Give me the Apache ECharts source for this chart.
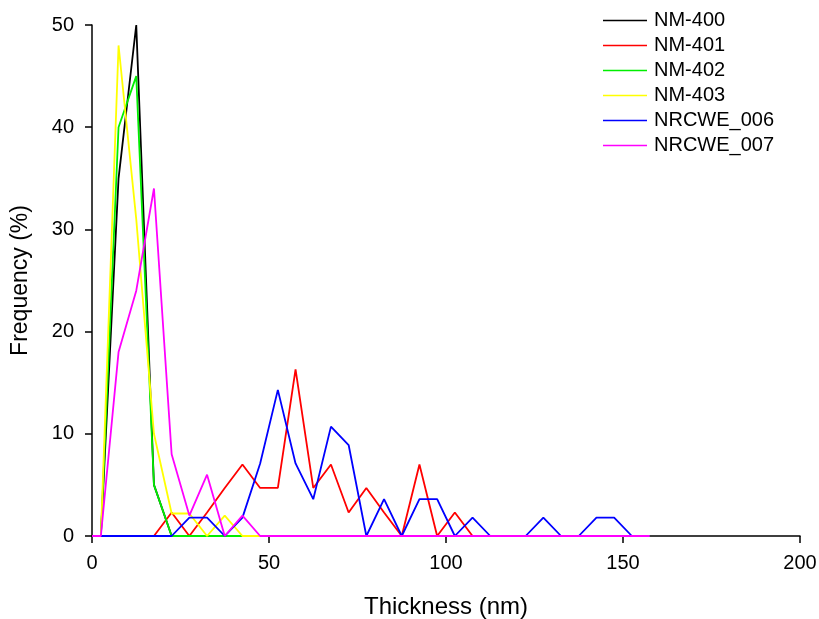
<!DOCTYPE html>
<html>
<head>
<meta charset="utf-8">
<script src="https://cdn.jsdelivr.net/npm/echarts@6/dist/echarts.min.js"></script>
<style>
html,body{margin:0;padding:0;background:#fff;}
#chart{width:819px;height:619px;}
</style>
</head>
<body>
<div id="chart"></div>
<script>
// Bin centres (nm)
var thickness = [2.5, 7.5, 12.5, 17.5, 22.5, 27.5, 32.5, 37.5, 42.5, 47.5,
  52.5, 57.5, 62.5, 67.5, 72.5, 77.5, 82.5, 87.5, 92.5, 97.5,
  102.5, 107.5, 112.5, 117.5, 122.5, 127.5, 132.5, 137.5, 142.5, 147.5,
  152.5, 157.5];

var seriesNames = ["NM-400", "NM-401", "NM-402", "NM-403", "NRCWE_006", "NRCWE_007"];

var nm400 = [0, 35, 50, 5, 0, 0, 0, 0, 0, 0, 0, 0, 0, 0, 0, 0, 0, 0, 0, 0, 0, 0, 0, 0, 0, 0, 0, 0, 0, 0, 0, 0];
var nm401 = [0, 0, 0, 0, 2.3, 0, 2.3, 4.7, 7.0, 4.7, 4.7, 16.3, 4.7, 7.0, 2.3, 4.7, 2.3, 0, 7.0, 0, 2.3, 0, 0, 0, 0, 0, 0, 0, 0, 0, 0, 0];
var nm402 = [0, 40, 45, 5, 0, 0, 0, 0, 0, 0, 0, 0, 0, 0, 0, 0, 0, 0, 0, 0, 0, 0, 0, 0, 0, 0, 0, 0, 0, 0, 0, 0];
var nm403 = [0, 48, 31, 10, 2.2, 2.2, 0, 2.0, 0, 0, 0, 0, 0, 0, 0, 0, 0, 0, 0, 0, 0, 0, 0, 0, 0, 0, 0, 0, 0, 0, 0, 0];
var nrcwe006 = [0, 0, 0, 0, 0, 1.8, 1.8, 0, 1.8, 7.1, 14.3, 7.1, 3.6, 10.7, 8.9, 0, 3.6, 0, 3.6, 3.6, 0, 1.8, 0, 0, 0, 1.8, 0, 0, 1.8, 1.8, 0, 0];
var nrcwe007 = [0, 18, 24, 34, 8, 2, 6, 0, 2, 0, 0, 0, 0, 0, 0, 0, 0, 0, 0, 0, 0, 0, 0, 0, 0, 0, 0, 0, 0, 0, 0, 0];

var xTicks = [0, 50, 100, 150, 200];
var yTicks = [0, 10, 20, 30, 40, 50];

var colors = ["#000000", "#ff0000", "#00ee00", "#ffff00", "#0000ff", "#ff00ff"];
var values = [nm400, nm401, nm402, nm403, nrcwe006, nrcwe007];

function pairs(arr) {
  return arr.map(function (v, i) { return [thickness[i], v]; });
}

var series = seriesNames.map(function (name, k) {
  var d = pairs(values[k]);
  if (name === "NRCWE_007") d.unshift([0, 0]);
  return {
    name: name,
    type: "line",
    data: d,
    symbol: "none",
    animation: false,
    lineStyle: { color: colors[k], width: 1.8 },
    itemStyle: { color: colors[k] },
    z: 2 + k
  };
});

var font = "Liberation Sans, Arial, sans-serif";
var chart = echarts.init(document.getElementById("chart"));
chart.setOption({
  backgroundColor: "#ffffff",
  animation: false,
  grid: { left: 92, right: 19, top: 25, bottom: 83, containLabel: false, outerBoundsMode: "none" },
  legend: {
    orient: "vertical",
    left: 598,
    top: 5,
    itemWidth: 44,
    itemHeight: 14,
    itemGap: 4,
    icon: "path://M0,6 L44,6 L44,7.6 L0,7.6 Z",
    textStyle: { fontFamily: font, fontSize: 20, color: "#000", padding: [0, 0, 0, 2], lineHeight: 21 },
    data: seriesNames
  },
  xAxis: {
    type: "value",
    min: xTicks[0],
    max: xTicks[xTicks.length - 1],
    interval: 50,
    name: "Thickness (nm)",
    nameLocation: "middle",
    nameGap: 59,
    nameTextStyle: { fontFamily: font, fontSize: 24, color: "#000" },
    axisLine: { show: true, onZero: false, lineStyle: { color: "#000", width: 1.5 } },
    axisTick: { show: true, inside: false, length: 7, lineStyle: { color: "#000", width: 1.5 } },
    axisLabel: { fontFamily: font, fontSize: 20, color: "#000", margin: 17 },
    splitLine: { show: false }
  },
  yAxis: {
    type: "value",
    min: yTicks[0],
    max: yTicks[yTicks.length - 1],
    interval: 10,
    name: "Frequency (%)",
    nameLocation: "middle",
    nameGap: 60,
    nameTextStyle: { fontFamily: font, fontSize: 23, color: "#000" },
    axisLine: { show: true, onZero: false, lineStyle: { color: "#000", width: 1.5 } },
    axisTick: { show: true, inside: false, length: 7, lineStyle: { color: "#000", width: 1.5 } },
    axisLabel: { fontFamily: font, fontSize: 20, color: "#000", margin: 18 },
    splitLine: { show: false }
  },
  series: series
});
</script>
</body>
</html>
